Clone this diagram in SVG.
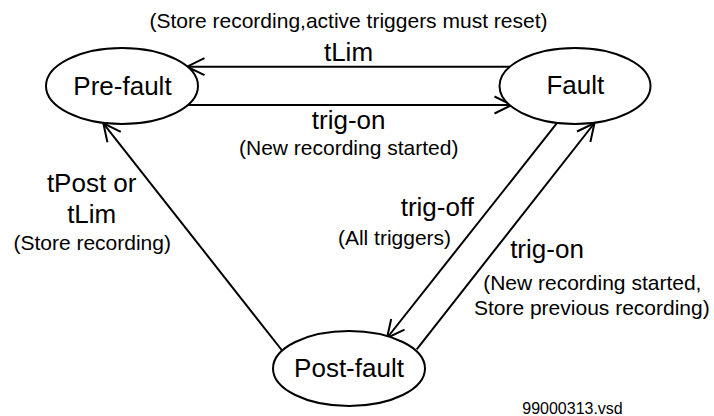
<svg xmlns="http://www.w3.org/2000/svg" width="714" height="416" viewBox="0 0 714 416">
<style>
.node{fill:#fff;stroke:#000;stroke-width:2}
.lbl{font-family:"Liberation Sans",Arial,sans-serif;font-size:26px;fill:#000;text-anchor:middle}
.sm{font-family:"Liberation Sans",Arial,sans-serif;font-size:21px;fill:#000;text-anchor:middle}
.ft{font-family:"Liberation Sans",Arial,sans-serif;font-size:16px;fill:#000;text-anchor:middle}
.edge{fill:none;stroke:#000;stroke-width:2;marker-end:url(#arr)}
</style>
<defs>
<marker id="arr" markerUnits="userSpaceOnUse" markerWidth="24" markerHeight="24" viewBox="-20 -12 24 24" refX="0" refY="0" orient="auto" overflow="visible">
<path d="M-17.5,-8.5 L0,0 L-17.5,8.5" fill="none" stroke="#000" stroke-width="2"/>
</marker>
</defs>
<rect width="714" height="416" fill="#fff"/>
<g id="connectors">
<line class="edge" x1="510" y1="66.7" x2="187" y2="66.7"/>
<line class="edge" x1="188" y1="105" x2="512" y2="105"/>
<line class="edge" x1="281.7" y1="350" x2="103.3" y2="123.3"/>
<line class="edge" x1="557.3" y1="122.7" x2="387" y2="338"/>
<line class="edge" x1="416.7" y1="349.3" x2="594.5" y2="123"/>
</g>
<g id="labels">
<text class="sm" x="348.5" y="28">(Store recording,active triggers must reset)</text>
<text class="lbl" x="348.5" y="61">tLim</text>
<text class="lbl" x="348.7" y="129">trig-on</text>
<text class="sm" x="348.7" y="155">(New recording started)</text>
<text class="lbl" x="91.7" y="192">tPost or</text>
<text class="lbl" x="91.7" y="223">tLim</text>
<text class="sm" x="92.2" y="250">(Store recording)</text>
<text class="lbl" x="437.3" y="216">trig-off</text>
<text class="sm" x="394.5" y="245">(All triggers)</text>
<text class="lbl" x="547" y="258">trig-on</text>
<text class="sm" x="592.3" y="290">(New recording started,</text>
<text class="sm" x="591.8" y="315">Store previous recording)</text>
<text class="ft" x="572.5" y="414">99000313.vsd</text>
</g>
<g id="pre-fault">
<ellipse class="node" cx="122" cy="86" rx="76" ry="38"/>
<text class="lbl" x="122.5" y="94.5">Pre-fault</text>
</g>
<g id="fault">
<ellipse class="node" cx="575" cy="86" rx="75.5" ry="38"/>
<text class="lbl" x="575.3" y="93.5">Fault</text>
</g>
<g id="post-fault">
<ellipse class="node" cx="349" cy="368.5" rx="76" ry="37.5"/>
<text class="lbl" x="349" y="377">Post-fault</text>
</g>
</svg>
